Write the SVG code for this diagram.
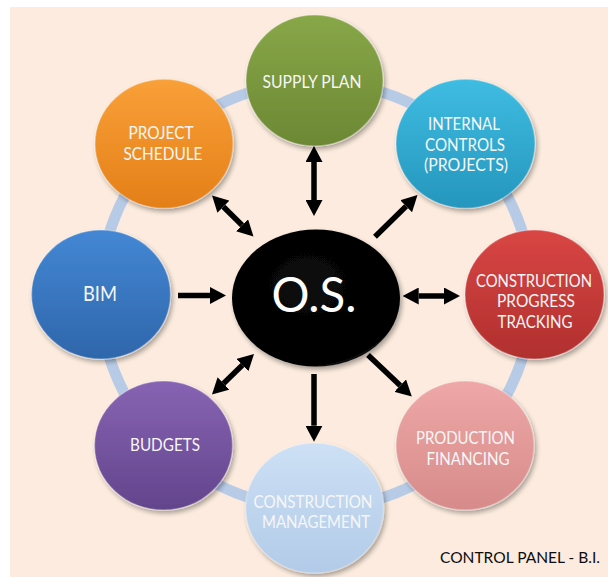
<svg xmlns="http://www.w3.org/2000/svg" width="608" height="577" viewBox="0 0 608 577">
  <defs>
    <style>
      .lbl { font-family: Lato, "Open Sans", "Liberation Sans", sans-serif; font-size: 17.5px; fill: #f6f6f6; text-anchor: middle; }
      .big { font-size: 21px; }
      .hub { font-family: Lato, "Open Sans", "Liberation Sans", sans-serif; font-size: 47.5px; fill: #ffffff; text-anchor: middle; }
      .note { font-family: Lato, "Open Sans", "Liberation Sans", sans-serif; font-size: 15.5px; fill: #0d0d0d; }
      .ball { filter: url(#shadow); stroke: rgba(255,255,255,0.28); stroke-width: 1.5; }
      .link { stroke: #000000; stroke-width: 5.5; fill: none; }
      .one { marker-end: url(#head); }
      .two { marker-start: url(#head); marker-end: url(#head); }
    </style>
    <filter id="shadow" x="-20%" y="-20%" width="140%" height="140%">
      <feGaussianBlur in="SourceAlpha" stdDeviation="2.5"/>
      <feOffset dx="1.5" dy="3" result="off"/>
      <feComponentTransfer><feFuncA type="linear" slope="0.35"/></feComponentTransfer>
      <feMerge><feMergeNode/><feMergeNode in="SourceGraphic"/></feMerge>
    </filter>
    <marker id="head" markerUnits="userSpaceOnUse" viewBox="0 0 16 17" refX="0" refY="8.5" markerWidth="16" markerHeight="17" orient="auto-start-reverse">
      <path d="M0,0 L16,8.5 L0,17 Z" fill="#000000"/>
    </marker>
    <linearGradient id="gGreen" x1="0" y1="0" x2="0" y2="1">
      <stop offset="0" stop-color="#88a748"/><stop offset="1" stop-color="#6c8834"/>
    </linearGradient>
    <linearGradient id="gOrange" x1="0" y1="0" x2="0" y2="1">
      <stop offset="0" stop-color="#f9a038"/><stop offset="1" stop-color="#e47f18"/>
    </linearGradient>
    <linearGradient id="gCyan" x1="0" y1="0" x2="0" y2="1">
      <stop offset="0" stop-color="#3fbce2"/><stop offset="1" stop-color="#2596bd"/>
    </linearGradient>
    <linearGradient id="gRed" x1="0" y1="0" x2="0" y2="1">
      <stop offset="0" stop-color="#d94644"/><stop offset="1" stop-color="#b02f2e"/>
    </linearGradient>
    <linearGradient id="gBlue" x1="0" y1="0" x2="0" y2="1">
      <stop offset="0" stop-color="#4487d4"/><stop offset="1" stop-color="#2e66ab"/>
    </linearGradient>
    <linearGradient id="gPurple" x1="0" y1="0" x2="0" y2="1">
      <stop offset="0" stop-color="#8764b3"/><stop offset="1" stop-color="#63448c"/>
    </linearGradient>
    <linearGradient id="gSky" x1="0" y1="0" x2="0" y2="1">
      <stop offset="0" stop-color="#cde0f5"/><stop offset="1" stop-color="#b2cbe8"/>
    </linearGradient>
    <linearGradient id="gPink" x1="0" y1="0" x2="0" y2="1">
      <stop offset="0" stop-color="#eea8a7"/><stop offset="1" stop-color="#d68b8a"/>
    </linearGradient>
    <radialGradient id="gBlack" cx="0.45" cy="0.4" r="0.65">
      <stop offset="0" stop-color="#0a0a0a"/><stop offset="0.9" stop-color="#000000"/><stop offset="1" stop-color="#2a2a2a"/>
    </radialGradient>
  </defs>

  <!-- page background -->
  <rect x="0" y="0" width="608" height="577" fill="#ffffff"/>
  <rect x="10" y="7" width="598" height="570" fill="#fcebde"/>

  <!-- ring joining the outer nodes -->
  <ellipse cx="316" cy="295" rx="216" ry="213" fill="none" stroke="#b8cbe6" stroke-width="11"/>

  <g id="supply-plan">
    <ellipse class="ball" cx="314.5" cy="80.5" rx="68.5" ry="65.5" fill="url(#gGreen)"/>
    <text class="lbl" x="312" y="87.7" textLength="99" lengthAdjust="spacingAndGlyphs">SUPPLY PLAN</text>
  </g>

  <g id="project-schedule">
    <ellipse class="ball" cx="164" cy="143.7" rx="69" ry="64.5" fill="url(#gOrange)"/>
    <text class="lbl" x="161" y="139" textLength="65" lengthAdjust="spacingAndGlyphs">PROJECT</text>
    <text class="lbl" x="163" y="160" textLength="79" lengthAdjust="spacingAndGlyphs">SCHEDULE</text>
  </g>

  <g id="internal-controls">
    <ellipse class="ball" cx="465.5" cy="143.7" rx="69.5" ry="64.5" fill="url(#gCyan)"/>
    <text class="lbl" x="464" y="130" textLength="72" lengthAdjust="spacingAndGlyphs">INTERNAL</text>
    <text class="lbl" x="465" y="151" textLength="80" lengthAdjust="spacingAndGlyphs">CONTROLS</text>
    <text class="lbl" x="466" y="171" textLength="84" lengthAdjust="spacingAndGlyphs">(PROJECTS)</text>
  </g>

  <g id="bim">
    <ellipse class="ball" cx="101" cy="294.5" rx="69.5" ry="64.5" fill="url(#gBlue)"/>
    <text class="lbl big" x="100" y="301" textLength="34" lengthAdjust="spacingAndGlyphs">BIM</text>
  </g>

  <g id="construction-progress-tracking">
    <ellipse class="ball" cx="534.5" cy="294.5" rx="69.5" ry="64.5" fill="url(#gRed)"/>
    <text class="lbl" x="534" y="286.7" textLength="116" lengthAdjust="spacingAndGlyphs">CONSTRUCTION</text>
    <text class="lbl" x="536" y="307.3" textLength="78" lengthAdjust="spacingAndGlyphs">PROGRESS</text>
    <text class="lbl" x="535" y="328.3" textLength="75" lengthAdjust="spacingAndGlyphs">TRACKING</text>
  </g>

  <g id="budgets">
    <ellipse class="ball" cx="163.5" cy="445.5" rx="69" ry="64.5" fill="url(#gPurple)"/>
    <text class="lbl" x="165" y="451" textLength="70" lengthAdjust="spacingAndGlyphs">BUDGETS</text>
  </g>

  <g id="construction-management">
    <ellipse class="ball" cx="314.6" cy="508" rx="69" ry="65" fill="url(#gSky)"/>
    <text class="lbl" x="313" y="507.7" textLength="119" lengthAdjust="spacingAndGlyphs">CONSTRUCTION</text>
    <text class="lbl" x="316" y="527.7" textLength="108" lengthAdjust="spacingAndGlyphs">MANAGEMENT</text>
  </g>

  <g id="production-financing">
    <ellipse class="ball" cx="465" cy="445.5" rx="69" ry="64.5" fill="url(#gPink)"/>
    <text class="lbl" x="465.5" y="444.3" textLength="99" lengthAdjust="spacingAndGlyphs">PRODUCTION</text>
    <text class="lbl" x="468" y="465" textLength="83" lengthAdjust="spacingAndGlyphs">FINANCING</text>
  </g>

  <g id="os">
    <ellipse cx="316" cy="298" rx="84" ry="68.5" fill="url(#gBlack)" filter="url(#shadow)"/>
    <text class="hub" x="314" y="311.7" textLength="85" lengthAdjust="spacingAndGlyphs">O.S.</text>
  </g>

  <g id="connectors">
    <line class="link two" x1="314" y1="162" x2="314" y2="200"/>
    <line class="link two" x1="223.4" y1="206.7" x2="242.1" y2="225.3"/>
    <line class="link one" x1="375" y1="236.7" x2="406.1" y2="206.2"/>
    <line class="link one" x1="178" y1="295.5" x2="210" y2="295.5"/>
    <line class="link two" x1="418.7" y1="296" x2="444" y2="296"/>
    <line class="link two" x1="242.5" y1="365.1" x2="223.5" y2="383.4"/>
    <line class="link one" x1="314" y1="374" x2="314" y2="425.7"/>
    <line class="link one" x1="368" y1="355" x2="400.2" y2="385.6"/>
  </g>

  <text class="note" x="440" y="563.3" textLength="160" lengthAdjust="spacingAndGlyphs">CONTROL PANEL - B.I.</text>
</svg>
